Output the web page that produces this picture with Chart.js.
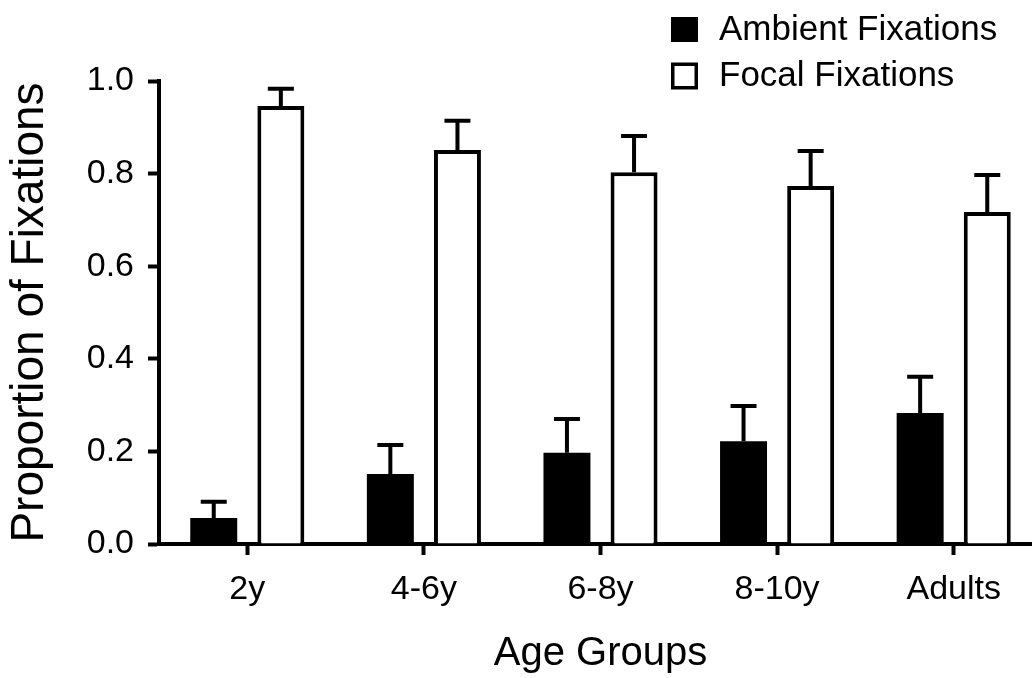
<!DOCTYPE html>
<html>
<head>
<meta charset="utf-8">
<script src="https://cdn.jsdelivr.net/npm/chart.js@4/dist/chart.umd.min.js"></script>
<style>
	body { margin: 0; background: #fff; }
	#wrap { width: 1032px; height: 678px; overflow: hidden; }
</style>
</head>
<body>
<div id="wrap"><canvas id="myChart" width="1042" height="678"></canvas></div>
<script>
const AGE_GROUPS = ['2y', '4-6y', '6-8y', '8-10y', 'Adults']
const AMBIENT = [0.056, 0.151, 0.197, 0.222, 0.283]
const AMBIENT_ERR = [0.035, 0.063, 0.073, 0.076, 0.078]
const FOCAL = [0.946, 0.851, 0.803, 0.773, 0.717]
const FOCAL_ERR = [0.037, 0.063, 0.078, 0.076, 0.080]
const Y_TICKS = [0, 0.2, 0.4, 0.6, 0.8, 1.0]

const FONT = 'Liberation Sans, Arial, Helvetica, sans-serif'

// upper error bars only, like the original figure
const errorBars = {
	id: 'errorBars',
	afterDatasetsDraw(chart) {
		const { ctx, scales: { y } } = chart
		ctx.save()
		ctx.strokeStyle = '#000'
		ctx.lineWidth = 4
		chart.data.datasets.forEach((ds, i) => {
			chart.getDatasetMeta(i).data.forEach((bar, j) => {
				const top = y.getPixelForValue(ds.data[j] + ds.errors[j])
				ctx.beginPath()
				ctx.moveTo(bar.x, bar.y)
				ctx.lineTo(bar.x, top)
				ctx.moveTo(bar.x - 13, top)
				ctx.lineTo(bar.x + 13, top)
				ctx.stroke()
			})
		})
		ctx.restore()
	}
}

// two-row legend at the top right
const sideLegend = {
	id: 'sideLegend',
	afterDraw(chart) {
		const { ctx } = chart
		ctx.save()
		ctx.font = `35px ${FONT}`
		ctx.textBaseline = 'middle'
		ctx.fillStyle = '#000'
		chart.data.datasets.forEach((ds, i) => {
			const cy = 29.5 + i * 45.5
			if (ds.backgroundColor === '#000') {
				ctx.fillRect(671, cy - 12.5, 27, 25)
			} else {
				ctx.lineWidth = 3.5
				ctx.strokeStyle = '#000'
				ctx.strokeRect(672.75, cy - 10.75, 23.5, 23.5)
			}
			ctx.fillText(ds.label, 719, cy + 1)
		})
		ctx.restore()
	}
}

new Chart(document.getElementById('myChart'), {
	type: 'bar',
	data: {
		labels: AGE_GROUPS,
		datasets: [
			{ label: 'Ambient Fixations', data: AMBIENT, errors: AMBIENT_ERR, backgroundColor: '#000', borderColor: '#000', borderWidth: 0 },
			{ label: 'Focal Fixations', data: FOCAL, errors: FOCAL_ERR, backgroundColor: '#fff', borderColor: '#000', borderWidth: 4 }
		]
	},
	plugins: [errorBars, sideLegend],
	options: {
		responsive: false,
		animation: false,
		barPercentage: 0.70,
		categoryPercentage: 0.76,
		layout: { padding: { top: 81, left: 0, right: 0, bottom: 0 } },
		scales: {
			x: {
				grid: { display: true, offset: false, drawOnChartArea: false, drawTicks: true, tickLength: 11, tickWidth: 4, tickColor: '#000' },
				border: { display: true, color: '#000', width: 4 },
				ticks: { color: '#000', padding: 14, font: { family: FONT, size: 34 } },
				title: { display: true, text: 'Age Groups', color: '#000', padding: { top: 0, bottom: 0 }, font: { family: FONT, size: 40 } },
				afterFit(s) {
					s.height = 134
					s.paddingLeft = 0
					s.paddingRight = 0
				}
			},
			y: {
				min: 0,
				max: 1,
				afterBuildTicks(s) {
					s.ticks = Y_TICKS.map(value => ({ value }))
				},
				grid: { display: true, drawOnChartArea: false, drawTicks: true, tickLength: 11, tickWidth: 4, tickColor: '#000' },
				border: { display: true, color: '#000', width: 4 },
				ticks: { color: '#000', padding: 14, font: { family: FONT, size: 34 }, callback: v => v.toFixed(1) },
				title: { display: true, text: 'Proportion of Fixations', color: '#000', padding: { top: 3, bottom: 0 }, font: { family: FONT, size: 46 } },
				afterFit(s) {
					s.width = 159
					s.paddingTop = 0
					s.paddingBottom = 0
				}
			}
		},
		plugins: {
			legend: { display: false },
			tooltip: { enabled: false }
		}
	}
});
</script>
</body>
</html>
